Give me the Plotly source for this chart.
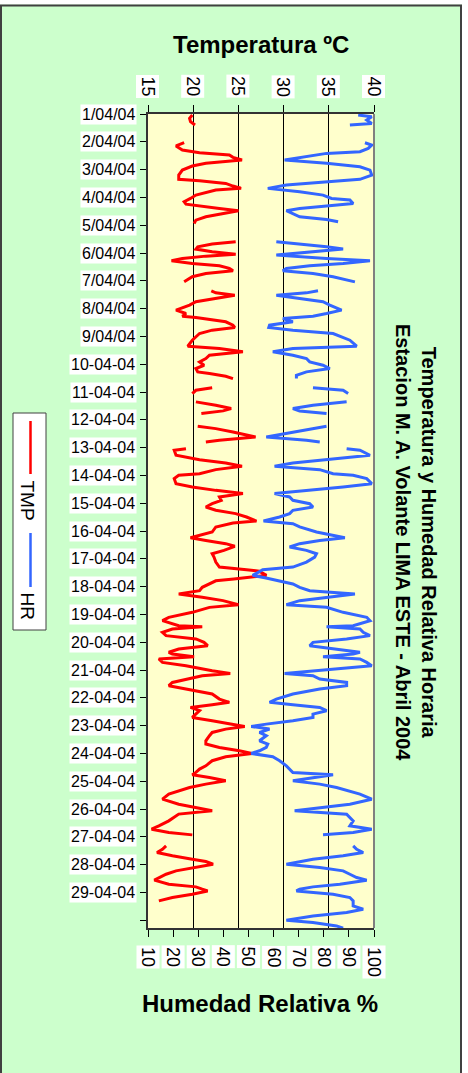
import plotly.graph_objects as go

# ---------------- data ----------------
# hours since 1/04/04 00:00 ; None = missing data (line break)
tmp_hours = [
    0.9, 3.7, 6.6, 9.5, 17,
    24.8, 27.6, 31.1, 33.4, 35.4, 37.4, 39.7, 42.6, 44.9, 48.4, 52.7, 56.4, 57.6, 59.9, 62.2,
    64.2, 65.7, 70.0, 72.9, 75.7, 77.8, 79.5, 81.5, 83.5, 85.8, 88.7, 91.6, 94.5, 102,
    110.3, 112.3, 114.6, 116.6, 118.9, 121.0, 122.7, 124.7, 126.7, 129.0, 131.0, 133.3, 135.4,
    137.7, 140.5, 144.9, 149,
    152.6, 154.4, 156.4, 159.3, 162.1, 165.0, 169.3, 172.2, 174.5, 175.7, 177.4, 179.4, 182.3,
    184.3, 186.6, 189.5, 195.3, 200.4, 202.5, 205.3, 208.2, 211.1, 214.0, 216.9, 219.7, 222.6,
    224.1, 226.4, 228.4, 232,
    236.4, 238.5, 241.3, 245,
    248.5, 251.4, 254.3, 256.3, 258.6, 264,
    269.6, 271.6, 274.5, 278.8, 281.7, 283.1, 286,
    288.9, 290.3, 294.6, 298.4, 301.2, 304.1, 307.0, 310.5, 311.9, 314.8, 319.1, 322.0, 324.9,
    327.7, 330.6, 333.5, 336.4, 339.3, 342.1, 345.0, 347.9, 351.4, 353.1, 356.5, 360.9, 363.7,
    365.8, 368.1, 370.9, 373.2, 376.7, 379.6, 382.5, 386.8, 391.1, 393.4, 394.6, 398.3, 400.0,
    401.5, 403.0, 405.7, 408.6, 411.5, 414.3, 417.2, 420.1, 423.6, 425.9, 430.2, 434.5, 437.4,
    441.7, 442.6, 444.6, 447.5, 450.3, 453.2, 456.1, 459.0, 461.9, 464.7, 466.2, 468.5, 470.5,
    473.4, 476.3, 480.6, 482.9, 484.9, 487.8, 490.7, 493.5, 496.4, 500.7, 505.1, 507.9, 510.0,
    512.3, 515.1, 518.0, 520.9, 523.8, 526.7, 528.7, 531.0, 533.9, 536.7, 541.1, 543.9, 546.8,
    549.7, 552.0, 554.9, 558.3, 562.7, 565.5, 568.4, 570.4, 572.7, 575.6, 578.5, 581.4, 587.1,
    591.5, 595.8, 601.5, 604.4, 610.2, 614.5, 617.4, 620.3, 622.3, 627,
    631.8, 634.7, 637.5, 640.4, 643.3, 645.3, 647.6, 650.5, 653.4, 656.3, 659.1, 661.4, 664.9,
    667.2, 669.2, 670.7, 673.5, 676.4, 679.3,
]
tmp_values = [
    19.9, 19.6, 19.7, 20.2, None,
    19.0, 18.1, 18.8, 20.7, 24.0, 24.4, 25.4, 21.4, 19.9, 18.8, 18.4, 18.4, 20.7, 23.6, 24.4,
    25.3, 22.5, 20.3, 19.7, 19.0, 19.2, 20.7, 22.9, 25.0, 23.3, 21.4, 20.3, 20.1, None,
    24.7, 22.1, 20.5, 20.3, 22.1, 24.7, 21.4, 18.8, 17.6, 19.9, 22.9, 24.0, 24.4,
    21.4, 19.9, 19.0, None,
    22.0, 22.5, 24.6, 22.5, 20.3, 19.6, 18.1, 19.2, 18.8, 20.3, 22.1, 23.6, 24.4,
    24.6, 22.1, 20.7, 19.9, 19.4, 22.9, 25.5, 21.8, 21.4, 20.7, 21.2, 20.3, 20.5,
    21.8, 23.6, 24.4, None,
    22.1, 20.3, 19.9, None,
    20.3, 22.5, 24.2, 23.3, 20.9, None,
    20.5, 22.5, 24.4, 26.9, 22.9, 21.4, None,
    19.2, 17.9, 18.1, 20.7, 23.6, 25.4, 22.5, 20.7, 18.4, 17.9, 18.1, 19.9, 22.5,
    25.5, 22.9, 23.1, 22.1, 21.4, 22.5, 24.7, 25.9, 27.0, 24.4, 22.5, 22.1, 20.7,
    19.7, 21.4, 23.6, 24.6, 23.4, 22.1, 22.3, 22.5, 22.9, 25.9, 27.3, 28.1, 26.5,
    24.5, 22.5, 21.8, 21.0, 20.7, 18.4, 21.0, 23.3, 25.0, 21.8, 19.9, 17.3, 16.6,
    18.4, 21.0, 17.7, 16.6, 17.0, 20.3, 21.2, 21.6, 18.4, 17.3, 17.7, 20.1, 16.2,
    16.6, 19.2, 22.1, 24.1, 21.0, 19.2, 17.7, 17.3, 19.2, 22.1, 22.9, 24.0, 22.1,
    19.7, 20.7, 20.3, 19.9, 22.1, 24.4, 25.7, 23.6, 22.1, 21.8, 21.4, 21.4, 22.9,
    25.1, 26.5, 23.6, 22.1, 21.4, 20.7, 20.3, 19.9, 21.8, 23.6, 21.4, 19.6, 17.3,
    16.6, 18.4, 22.1, 18.4, 17.3, 16.2, 15.4, 17.3, 19.9, None,
    17.0, 16.6, 16.0, 17.7, 19.9, 21.4, 22.2, 19.9, 18.1, 17.0, 16.2, 15.7, 17.3,
    20.3, 21.0, 21.6, 19.9, 17.7, 16.2,
]

hr_hours = [
    0.9, 2.3, 5.2, 8.1, 9.5, 17,
    24.8, 26.8, 29.7, 32.5, 34.0, 36.9, 39.7, 42.6, 45.5, 48.4, 52.7, 56.4, 58.5, 61.3,
    64.2, 67.1, 70.0, 72.9, 74.3, 77.2, 79.5, 81.5, 83.5, 85.8, 88.7, 91.0, 93.0, 102,
    110.3, 111.7, 114.6, 116.6, 118.9, 121.8, 124.7, 126.7, 129.0, 131.0, 133.3, 135.4,
    137.7, 140.5, 144.9, 149,
    152.6, 154.4, 156.4, 159.3, 162.1, 165.0, 169.3, 172.2, 174.5, 176.5, 179.4, 182.3,
    184.3, 186.6, 189.5, 195.3, 200.4, 202.5, 205.3, 208.2, 211.1, 214.0, 216.9, 219.7,
    222.6, 225.5, 228.4, 232,
    236.4, 238.5, 241.3, 245,
    248.5, 251.4, 254.3, 256.3, 258.6, 264,
    269.6, 271.6, 274.5, 278.8, 281.7, 283.1, 286,
    288.9, 290.3, 294.6, 298.4, 301.2, 304.1, 307.0, 310.5, 311.9, 314.8, 319.1, 322.0,
    324.9, 327.7, 330.6, 333.5, 336.4, 339.3, 342.1, 345.0, 347.9, 351.4, 353.7, 356.5,
    360.9, 363.7, 365.8, 368.1, 370.9, 373.8, 376.7, 379.6, 382.5, 386.8, 391.1, 393.4,
    398.3, 400.5, 402.8, 405.7, 408.6, 411.5, 414.3, 417.2, 420.1, 423.6, 425.9, 430.2,
    434.5, 437.4, 441.7, 442.6, 444.6, 447.5, 450.3, 453.2, 456.1, 459.0, 461.9, 464.7,
    466.2, 468.5, 470.5, 473.4, 476.3, 480.6, 482.9, 484.9, 487.8, 490.7, 493.5, 496.4,
    500.7, 505.1, 507.9, 510.0, 512.3, 515.1, 518.0, 520.9, 523.8, 526.7, 528.7, 531.0,
    533.9, 536.7, 541.1, 543.9, 546.8, 549.7, 552.0, 554.9, 558.3, 562.7, 565.5, 568.4,
    570.4, 572.7, 575.6, 578.5, 581.4, 587.1, 591.5, 595.8, 601.5, 604.4, 610.2, 614.5,
    617.4, 620.3, 622.3, 627,
    631.8, 634.7, 637.5, 640.4, 643.3, 645.3, 647.6, 650.5, 653.4, 656.3, 659.1, 661.4,
    664.9, 667.2, 669.2, 670.7, 673.5, 676.4, 679.3, 683.6, 686.5, 689.4, 692.3, 696.0,
    698.0, 700.9, 702.9,
]
hr_values = [
    93.7, 99.1, 97.1, 99.1, 90.4, None,
    96.4, 99.1, 97.7, 94.4, 81.1, 73.1, 64.4, 81.1, 94.4, 98.4, 99.1, 94.4, 81.1, 65.1,
    57.7, 70.4, 79.7, 83.1, 90.4, 91.7, 81.1, 70.4, 65.1, 67.7, 70.4, 81.1, 85.7, None,
    61.1, 67.7, 81.1, 87.7, 74.4, 61.1, 81.1, 98.4, 87.7, 74.4, 65.1, 63.7,
    75.7, 83.7, 92.4, None,
    77.7, 73.1, 61.1, 70.4, 79.7, 82.4, 87.1, 81.1, 75.7, 63.7, 67.7, 58.4,
    58.1, 67.7, 83.7, 90.4, 93.1, 67.7, 59.7, 67.7, 73.1, 74.4, 79.7, 82.4,
    73.1, 69.1, 69.1, None,
    75.7, 87.7, 89.7, None,
    89.1, 75.7, 67.7, 70.4, 81.1, None,
    81.1, 75.7, 67.7, 57.1, 73.1, 78.4, None,
    89.1, 94.4, 98.4, 81.1, 67.7, 60.4, 78.4, 83.7, 91.7, 97.1, 99.1, 87.7,
    73.1, 60.4, 66.4, 67.7, 74.4, 75.7, 67.7, 66.4, 62.4, 56.0, 67.7, 70.4,
    77.1, 83.7, 88.4, 78.4, 70.4, 66.4, 73.1, 77.1, 76.4, 73.1, 67.7, 55.7,
    51.7, 57.0, 62.4, 67.7, 70.4, 74.4, 92.4, 81.1, 70.4, 65.1, 81.1, 87.7,
    97.1, 98.4, 91.7, 81.1, 94.4, 95.7, 98.4, 89.1, 75.7, 74.4, 85.1, 94.4,
    91.7, 79.7, 94.4, 97.1, 99.1, 78.4, 64.4, 75.7, 78.4, 89.1, 89.1, 78.4,
    67.7, 61.1, 58.4, 67.7, 78.4, 81.1, 75.7, 75.7, 67.7, 57.1, 51.1, 58.4,
    54.4, 57.1, 54.4, 57.7, 57.1, 54.4, 51.1, 59.7, 62.4, 65.1, 66.4, 67.7,
    83.7, 75.7, 67.7, 78.4, 85.1, 94.4, 99.1, 90.4, 68.4, 89.1, 91.7, 90.4,
    99.1, 91.7, 79.7, None,
    91.7, 93.1, 95.7, 87.7, 75.7, 70.4, 65.1, 78.4, 87.7, 90.4, 93.1, 97.1,
    86.4, 75.7, 70.4, 69.1, 83.7, 90.4, 91.7, 91.7, 95.7, 89.1, 75.7, 65.1,
    75.7, 85.1, 87.7,
]

date_labels = (["%d/04/04" % d for d in range(1, 10)]
               + ["%02d-04-04" % d for d in range(10, 30)] + [""])
temp_ticks = [15, 20, 25, 30, 35, 40]
hr_ticks = [10, 20, 30, 40, 50, 60, 70, 80, 90, 100]

assert len(tmp_hours) == len(tmp_values)
assert len(hr_hours) == len(hr_values)

# ---------------- figure ----------------
W, H = 468, 1073
L, R, T, B = 148, 94, 114, 145
pw, ph = W - L - R, H - T - B


def px(x):  # pixel x -> paper
    return (x - L) / pw


def py(y):  # pixel y -> paper
    return (H - B - y) / ph


FONT = "Liberation Sans, Arial, sans-serif"
RED = "#FF0000"
BLUE = "#3366FF"

fig = go.Figure()
fig.add_trace(go.Scatter(x=tmp_values, y=tmp_hours, xaxis="x", yaxis="y", mode="lines",
                         name="TMP", line=dict(color=RED, width=3), connectgaps=False))
fig.add_trace(go.Scatter(x=hr_values, y=hr_hours, xaxis="x2", yaxis="y", mode="lines",
                         name="HR", line=dict(color=BLUE, width=3), connectgaps=False))

day_ticks = [24 * i for i in range(len(date_labels))]

fig.update_layout(
    width=W, height=H,
    margin=dict(l=L, r=R, t=T, b=B, pad=0),
    paper_bgcolor="#CCFFCC",
    plot_bgcolor="#FFFFCC",
    showlegend=False,
    font=dict(family=FONT, color="black"),
    xaxis=dict(
        range=[15, 40], side="top", anchor="y",
        tickvals=temp_ticks, showticklabels=False,
        ticks="outside", ticklen=7, tickcolor="black", tickwidth=1,
        showgrid=True, gridcolor="black", gridwidth=1,
        showline=True, linecolor="#333333", linewidth=2,
        zeroline=False, fixedrange=True,
    ),
    xaxis2=dict(
        range=[10, 100], side="bottom", anchor="y", overlaying="x",
        tickvals=hr_ticks, showticklabels=False,
        ticks="outside", ticklen=7, tickcolor="black", tickwidth=1,
        showgrid=False, showline=True, linecolor="#333333", linewidth=2,
        zeroline=False, fixedrange=True,
    ),
    yaxis=dict(
        range=[702.7, 0], tickvals=day_ticks, showticklabels=False,
        ticks="outside", ticklen=6, tickcolor="black", tickwidth=1,
        showgrid=False, showline=True, linecolor="#333333", linewidth=2,
        zeroline=False, fixedrange=True,
    ),
)

ann = []
# date labels (white boxes) on the left
for h, lbl in zip(day_ticks, date_labels):
    if lbl:
        ann.append(dict(x=px(137), xref="paper", y=h, yref="y", text=lbl,
                        xanchor="right", yanchor="middle", showarrow=False,
                        bgcolor="white", borderpad=1,
                        font=dict(size=16, family=FONT, color="black")))
# temperature tick labels (top, rotated)
for v in temp_ticks:
    ann.append(dict(x=v, xref="x", y=py(98.5), yref="paper", text=str(v),
                    textangle=90, xanchor="center", yanchor="bottom", showarrow=False,
                    bgcolor="white", borderpad=1,
                    font=dict(size=18, family=FONT, color="black")))
# humidity tick labels (bottom, rotated)
for v in hr_ticks:
    ann.append(dict(x=v, xref="x2", y=py(945), yref="paper", text=str(v),
                    textangle=90, xanchor="center", yanchor="top", showarrow=False,
                    bgcolor="white", borderpad=1,
                    font=dict(size=18, family=FONT, color="black")))
# axis titles
ann.append(dict(x=px(261), xref="paper", y=py(44), yref="paper",
                text="<b>Temperatura ºC</b>", showarrow=False,
                xanchor="center", yanchor="middle",
                font=dict(size=24, family=FONT, color="black")))
ann.append(dict(x=px(260), xref="paper", y=py(1003), yref="paper",
                text="<b>Humedad Relativa %</b>", showarrow=False,
                xanchor="center", yanchor="middle",
                font=dict(size=24, family=FONT, color="black")))
# main title, rotated on the right
ann.append(dict(x=px(416), xref="paper", y=py(542), yref="paper",
                text="<b>Temperatura y Humedad Relativa Horaria<br>"
                     "Estacion M. A. Volante LIMA ESTE - Abril 2004</b>",
                textangle=90, showarrow=False, xanchor="center", yanchor="middle",
                align="center",
                font=dict(size=20, family=FONT, color="black")))
# legend texts (rotated)
ann.append(dict(x=px(27.5), xref="paper", y=py(500), yref="paper", text="TMP",
                textangle=90, showarrow=False, xanchor="center", yanchor="middle",
                font=dict(size=19, family=FONT, color="black")))
ann.append(dict(x=px(27.5), xref="paper", y=py(606), yref="paper", text="HR",
                textangle=90, showarrow=False, xanchor="center", yanchor="middle",
                font=dict(size=19, family=FONT, color="black")))
fig.update_layout(annotations=ann)

shapes = [
    # white margin outside chart border (right and top)
    dict(type="rect", xref="paper", yref="paper", x0=px(462), x1=px(475), y0=py(1080),
         y1=py(-5), fillcolor="white", line=dict(width=0), layer="above"),
    dict(type="rect", xref="paper", yref="paper", x0=px(-5), x1=px(475), y0=py(4.5),
         y1=py(-5), fillcolor="white", line=dict(width=0), layer="above"),
    # outer chart border
    dict(type="rect", xref="paper", yref="paper", x0=px(1), x1=px(461), y0=py(1080),
         y1=py(5.5), line=dict(color="#404040", width=2), layer="above"),
    # right edge of plot area
    dict(type="line", xref="paper", yref="paper", x0=1, x1=1, y0=0, y1=1,
         line=dict(color="#808080", width=2), layer="above"),
    # legend box and keys
    dict(type="rect", xref="paper", yref="paper", x0=px(13), x1=px(46), y0=py(630),
         y1=py(413), fillcolor="white", line=dict(color="#404040", width=1), layer="above"),
    dict(type="line", xref="paper", yref="paper", x0=px(30.5), x1=px(30.5), y0=py(474),
         y1=py(421), line=dict(color=RED, width=2.5), layer="above"),
    dict(type="line", xref="paper", yref="paper", x0=px(30.5), x1=px(30.5), y0=py(587),
         y1=py(533), line=dict(color=BLUE, width=2.5), layer="above"),
]
fig.update_layout(shapes=shapes)

# remove the default 8px page margin so the figure sits at the window origin
fig.write_html("out.html",
               config={"displayModeBar": False},
               post_script="document.body.style.margin='0';document.body.style.overflow='hidden';")
